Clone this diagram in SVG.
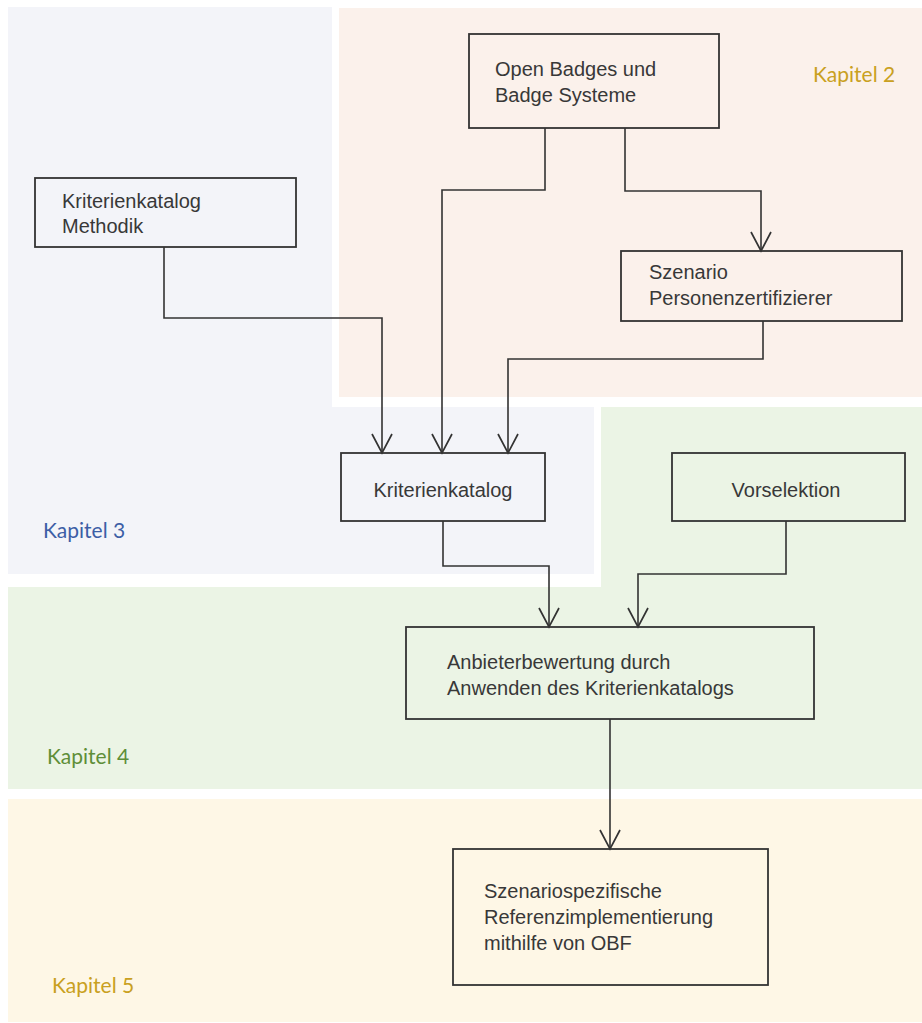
<svg xmlns="http://www.w3.org/2000/svg" width="922" height="1023" viewBox="0 0 922 1023">
  <style>
    .box { fill: none; stroke: #333; stroke-width: 1.8; }
    .lbl { font-family: "Liberation Sans", Arial, sans-serif; font-size: 20px; fill: #383838; }
    .wire { fill: none; stroke: #333; stroke-width: 1.6; }
    .chap { font-family: Lato, "Open Sans", sans-serif; font-size: 21px; }
  </style>
  <defs>
    <!-- open V arrowhead, tip at the path end -->
    <marker id="arrow" markerUnits="userSpaceOnUse" viewBox="-22 -12 24 24" markerWidth="24" markerHeight="24" refX="0" refY="0" orient="auto">
      <path d="M-19,-10 L0,0 L-19,10" fill="none" stroke="#333" stroke-width="1.7"/>
    </marker>
  </defs>

  <rect width="922" height="1023" fill="#ffffff"/>

  <!-- chapter areas -->
  <g id="areas">
    <path d="M8,7 H332 V407 H594 V574 H8 Z" fill="#f3f4f9"/>
    <rect x="339" y="8" width="583" height="389" fill="#fbf1eb"/>
    <path d="M601,407 H922 V789 H8 V587 H601 Z" fill="#ebf4e5"/>
    <rect x="8" y="799" width="914" height="223" fill="#fef7e6"/>
  </g>

  <!-- chapter labels -->
  <g id="chapters">
    <text class="chap" x="813" y="82" fill="#c9a021">Kapitel 2</text>
    <text class="chap" x="43" y="538" fill="#3c5ea6">Kapitel 3</text>
    <text class="chap" x="47" y="764" fill="#5e8e38">Kapitel 4</text>
    <text class="chap" x="52" y="993" fill="#c9a021">Kapitel 5</text>
  </g>

  <!-- connectors -->
  <g id="connectors" class="wire">
    <path class="wire" d="M164,247 V318 H382 V453" marker-end="url(#arrow)"/>
    <path class="wire" d="M545,128 V190 H442 V453" marker-end="url(#arrow)"/>
    <path class="wire" d="M625,128 V191 H761 V251" marker-end="url(#arrow)"/>
    <path class="wire" d="M763,321 V359 H508 V453" marker-end="url(#arrow)"/>
    <path class="wire" d="M443,521 V566 H549 V627" marker-end="url(#arrow)"/>
    <path class="wire" d="M786,521 V574 H638 V627" marker-end="url(#arrow)"/>
    <path class="wire" d="M610,719 V849" marker-end="url(#arrow)"/>
  </g>

  <g id="node-open-badges">
    <rect class="box" x="469" y="34" width="250" height="94"/>
    <text class="lbl" x="495" y="76">Open Badges und</text>
    <text class="lbl" x="495" y="102">Badge Systeme</text>
  </g>

  <g id="node-methodik">
    <rect class="box" x="35" y="178" width="261" height="69"/>
    <text class="lbl" x="62" y="208">Kriterienkatalog</text>
    <text class="lbl" x="62" y="233">Methodik</text>
  </g>

  <g id="node-szenario">
    <rect class="box" x="621" y="251" width="281" height="70"/>
    <text class="lbl" x="649" y="279">Szenario</text>
    <text class="lbl" x="649" y="305">Personenzertifizierer</text>
  </g>

  <g id="node-kriterienkatalog">
    <rect class="box" x="341" y="453" width="204" height="68"/>
    <text class="lbl" x="443" y="497" text-anchor="middle">Kriterienkatalog</text>
  </g>

  <g id="node-vorselektion">
    <rect class="box" x="672" y="453" width="233" height="68"/>
    <text class="lbl" x="786" y="497" text-anchor="middle">Vorselektion</text>
  </g>

  <g id="node-anbieterbewertung">
    <rect class="box" x="406" y="627" width="408" height="92"/>
    <text class="lbl" x="447" y="669">Anbieterbewertung durch</text>
    <text class="lbl" x="447" y="695">Anwenden des Kriterienkatalogs</text>
  </g>

  <g id="node-referenz">
    <rect class="box" x="453" y="849" width="315" height="136"/>
    <text class="lbl" x="484" y="898">Szenariospezifische</text>
    <text class="lbl" x="484" y="924">Referenzimplementierung</text>
    <text class="lbl" x="484" y="950">mithilfe von OBF</text>
  </g>
</svg>
